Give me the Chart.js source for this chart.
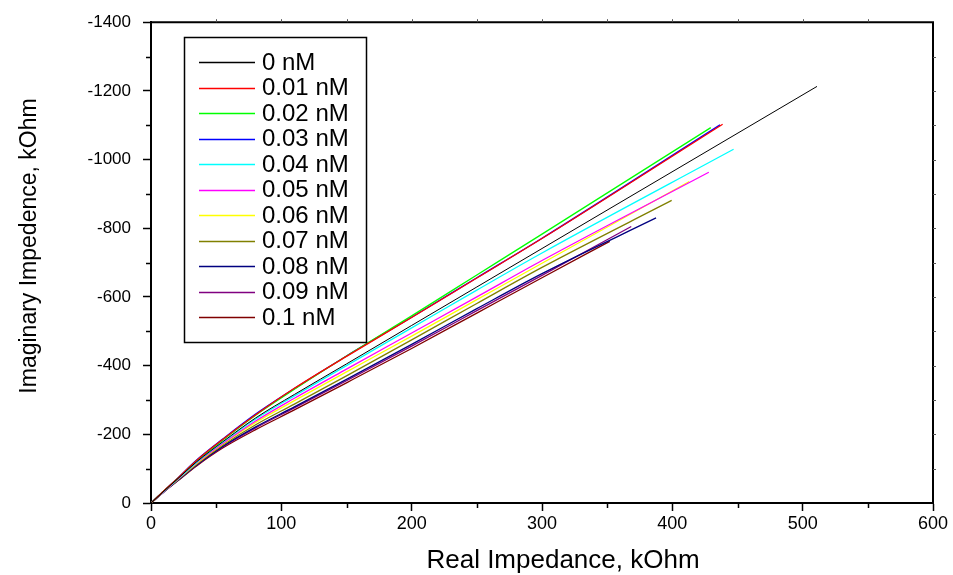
<!DOCTYPE html>
<html>
<head>
<meta charset="utf-8">
<script src="https://cdn.jsdelivr.net/npm/chart.js@4"></script>
<style>
  html, body { margin: 0; padding: 0; background: #fff; }
  #wrap { width: 953px; height: 575px; }
</style>
</head>
<body>
<div id="wrap"><canvas id="nyquistChart" width="953" height="575"></canvas></div>
<script>
// Series names
const concLabels = ['0 nM', '0.01 nM', '0.02 nM', '0.03 nM', '0.04 nM', '0.05 nM', '0.06 nM', '0.07 nM', '0.08 nM', '0.09 nM', '0.1 nM'];

// Real impedance samples (kOhm), shared by all curves; last point per series in realEnd
const realZ = [0, 10, 20, 35, 55, 80, 110, 150, 200, 250, 300];
const realEnd = [511, 438.6, 429.5, 436.6, 447, 428, 413, 399.5, 387.5, 368.5, 352];

// Imaginary impedance (kOhm), one value per realZ sample plus the end point
const imag0 = [0, -35, -69, -120, -178, -247, -316, -405, -517, -629, -741, -1213];
const imag001 = [0, -36, -70, -124, -185, -256, -334, -427, -540, -655, -770, -1103];
const imag002 = [0, -36, -70, -123, -183, -255, -331, -428, -545, -664, -783, -1093];
const imag003 = [0, -36, -71, -125, -186, -258, -333, -428, -541, -656, -771, -1101];
const imag004 = [0, -35, -68, -119, -177, -244, -312, -400, -510, -620, -728, -1030];
const imag005 = [0, -34, -67, -117, -173, -238, -305, -390, -495, -600, -706, -963];
const imag006 = [0, -34, -67, -115, -172, -234, -298, -382, -486, -592, -698, -936];
const imag007 = [0, -34, -65, -113, -168, -227, -288, -370, -475, -581, -686, -881];
const imag008 = [0, -33, -64, -111, -165, -221, -280, -360, -462, -566, -668, -830];
const imag009 = [0, -33, -64, -110, -163, -218, -277, -356, -457, -560, -663, -805];
const imag01 = [0, -33, -63, -108, -160, -213, -271, -350, -450, -553, -656, -762];

// Axis ticks
const xTicks = [0, 100, 200, 300, 400, 500, 600];
const yTicks = [0, -200, -400, -600, -800, -1000, -1200, -1400];

// Line colours
const lineColors = ['#000000', '#ff0000', '#00ff00', '#0000ff', '#00ffff', '#ff00ff', '#ffff00', '#808000', '#000080', '#800080', '#800000'];

const imagSeries = [imag0, imag001, imag002, imag003, imag004, imag005, imag006, imag007, imag008, imag009, imag01];

const FONT = '"Liberation Sans", Arial, sans-serif';

// Build datasets
const datasets = imagSeries.map((imag, i) => {
    const xs = realZ.concat([realEnd[i]]);
    return {
        label: concLabels[i],
        data: imag.map((y, j) => ({ x: xs[j], y: y })),
        borderColor: lineColors[i],
        backgroundColor: lineColors[i],
        borderWidth: i === 0 ? 1 : 1.3,
        pointRadius: 0,
        cubicInterpolationMode: 'monotone',
        fill: false
    };
});

// Frame, minor ticks, axis titles and boxed legend
const decorPlugin = {
    id: 'decor',
    afterDraw(chart) {
        const ctx = chart.ctx;
        const area = chart.chartArea;
        const xs = chart.scales.x;
        const ys = chart.scales.y;
        ctx.save();

        // frame (top and right)
        ctx.strokeStyle = '#000';
        ctx.lineWidth = 2;
        ctx.beginPath();
        ctx.moveTo(area.left, area.top);
        ctx.lineTo(area.right, area.top);
        ctx.lineTo(area.right, area.bottom);
        ctx.stroke();

        // minor ticks
        ctx.lineWidth = 1.5;
        ctx.beginPath();
        for (let v = 50; v < 600; v += 100) {
            const px = Math.round(xs.getPixelForValue(v)) + 0.5;
            ctx.moveTo(px, area.bottom);
            ctx.lineTo(px, area.bottom + 5);
        }
        for (let v = -100; v > -1400; v -= 200) {
            const py = Math.round(ys.getPixelForValue(v)) + 0.5;
            ctx.moveTo(area.left, py);
            ctx.lineTo(area.left - 5, py);
        }
        ctx.stroke();

        // small ticks on top and right edges
        ctx.lineWidth = 1;
        ctx.strokeStyle = '#555';
        ctx.beginPath();
        for (let v = 50; v < 600; v += 50) {
            const px = Math.round(xs.getPixelForValue(v)) + 0.5;
            ctx.moveTo(px, area.top);
            ctx.lineTo(px, area.top - 3);
        }
        for (let v = -100; v > -1400; v -= 100) {
            const py = Math.round(ys.getPixelForValue(v)) + 0.5;
            ctx.moveTo(area.right, py);
            ctx.lineTo(area.right + 3, py);
        }
        ctx.stroke();

        // axis titles
        ctx.fillStyle = '#000';
        ctx.font = '26px ' + FONT;
        ctx.textAlign = 'center';
        ctx.textBaseline = 'middle';
        ctx.fillText('Real Impedance, kOhm', 563, 561);
        ctx.save();
        ctx.translate(30, 246);
        ctx.rotate(-Math.PI / 2);
        ctx.font = '23px ' + FONT;
        ctx.fillText('Imaginary Impedence, kOhm', 0, 0);
        ctx.restore();

        // legend box
        const box = { left: 184, top: 37, right: 366, bottom: 342 };
        ctx.fillStyle = '#fff';
        ctx.fillRect(box.left, box.top, box.right - box.left, box.bottom - box.top);
        ctx.strokeStyle = '#000';
        ctx.lineWidth = 1.5;
        ctx.strokeRect(box.left + 0.5, box.top + 0.5, box.right - box.left, box.bottom - box.top);

        ctx.font = '24px ' + FONT;
        ctx.textAlign = 'left';
        ctx.textBaseline = 'middle';
        chart.data.datasets.forEach((ds, i) => {
            const cy = 62 + i * 25.5;
            ctx.strokeStyle = ds.borderColor;
            ctx.lineWidth = 1.5;
            ctx.beginPath();
            ctx.moveTo(199, Math.round(cy) + 0.5);
            ctx.lineTo(255, Math.round(cy) + 0.5);
            ctx.stroke();
            ctx.fillStyle = '#000';
            ctx.fillText(ds.label, 262, cy + 1);
        });

        ctx.restore();
    }
};

const chartCtx = document.getElementById('nyquistChart').getContext('2d');
const nyquistChart = new Chart(chartCtx, {
    type: 'line',
    data: { datasets: datasets },
    options: {
        responsive: false,
        animation: false,
        layout: {
            padding: { top: 21, right: 20, left: 0, bottom: 0 }
        },
        plugins: {
            legend: { display: false },
            tooltip: { enabled: false }
        },
        scales: {
            x: {
                type: 'linear',
                min: 0,
                max: 600,
                afterFit(scale) { scale.height = 72; },
                afterBuildTicks(scale) { scale.ticks = xTicks.map(v => ({ value: v })); },
                border: { display: true, color: '#000', width: 2 },
                grid: {
                    drawOnChartArea: false,
                    drawTicks: true,
                    tickLength: 8,
                    tickWidth: 1.5,
                    tickColor: '#000'
                },
                ticks: {
                    color: '#000',
                    padding: 2,
                    maxRotation: 0,
                    font: { family: FONT, size: 18 },
                    callback: v => String(v)
                }
            },
            y: {
                type: 'linear',
                reverse: true,
                min: -1400,
                max: 0,
                afterFit(scale) { scale.width = 151; },
                afterBuildTicks(scale) { scale.ticks = yTicks.map(v => ({ value: v })); },
                border: { display: true, color: '#000', width: 2 },
                grid: {
                    drawOnChartArea: false,
                    drawTicks: true,
                    tickLength: 8,
                    tickWidth: 1.5,
                    tickColor: '#000'
                },
                ticks: {
                    color: '#000',
                    padding: 12,
                    font: { family: FONT, size: 17 },
                    callback: v => String(v)
                }
            }
        }
    },
    plugins: [decorPlugin]
});
</script>
</body>
</html>
